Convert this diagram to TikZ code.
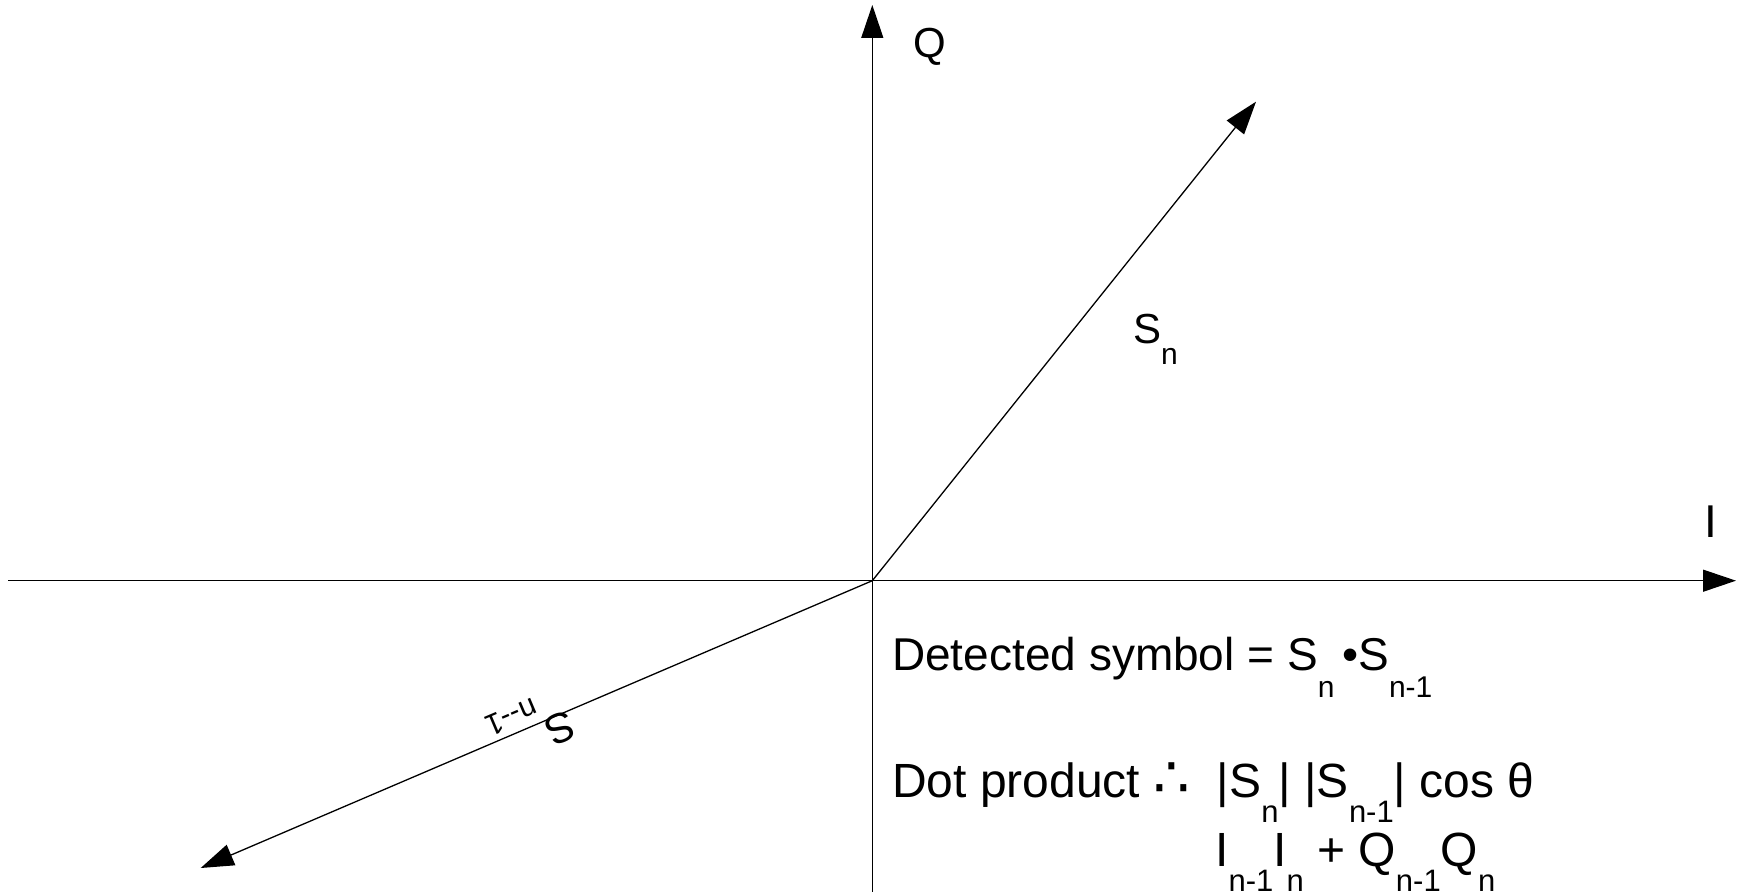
\documentclass[tikz,border=0pt]{standalone}
\usepackage{fontspec}
\setmainfont{Liberation Sans}
\newfontfamily\symfont{DejaVu Sans}
\usetikzlibrary{arrows.meta}
\newcommand{\mysub}[2][27pt]{\raisebox{-#1}{\fontsize{30}{30}\selectfont #2}}
\newcommand{\mysubb}[1]{\raisebox{-25pt}{\fontsize{31}{31}\selectfont #1}}
\tikzset{
  axis line/.style={line width=1.3pt, -{Triangle[length=33pt,width=22pt]}},
  plain line/.style={line width=1.3pt},
  lbl/.style={inner sep=0pt, font=\fontsize{42}{50}\selectfont},
  txt/.style={inner sep=0pt, anchor=base west, font=\fontsize{46}{54}\selectfont},
  txtb/.style={txt, font=\fontsize{48}{56}\selectfont},
}
\begin{document}
\begin{tikzpicture}[x=1pt,y=1pt]
\useasboundingbox (0,0) rectangle (1743,892);
\coordinate (O) at (872.3,311.3);
\coordinate (Qtop) at (872.3,887);
\coordinate (Qbot) at (872.3,0);
\coordinate (Ileft) at (8.3,311.3);
\coordinate (Itip) at (1736,311.3);
\coordinate (Sn) at (1256,790.3);
\coordinate (Snm) at (200.7,24);
\draw[plain line] (O) -- (Qbot);
\draw[axis line] (O) -- (Qtop);
\draw[plain line] (O) -- (Ileft);
\draw[axis line] (O) -- (Itip);
\draw[axis line] (O) -- (Sn);
\draw[axis line] (O) -- (Snm);
\node[lbl] (qlab) at (930,845) {Q};
\node[lbl, font=\fontsize{46}{50}\selectfont] (ilab) at (1711,370) {I};
\node[lbl, anchor=base west] (snlab) at (1133,548) {S\mysub[21pt]{n}};
\node[lbl, anchor=base west, rotate=203] (snmlab) at (568,183) {S\mysub[25pt]{n-{}-1}};
\node[txt] (det) at (892,221) {Detected symbol = S\mysub{n}\,•S\mysub{n-1}};
\node[txtb] (dot) at (892,95) {Dot product {\symfont\scalebox{1.2}{∴}}\ \ |S\mysubb{n}| |S\mysubb{n-1}| cos θ};
\node[txtb] (iq) at (1215,26) {I\mysubb{n-1}I\mysubb{n} + Q\mysubb{n-1}Q\mysubb{n}};
\end{tikzpicture}
\end{document}
